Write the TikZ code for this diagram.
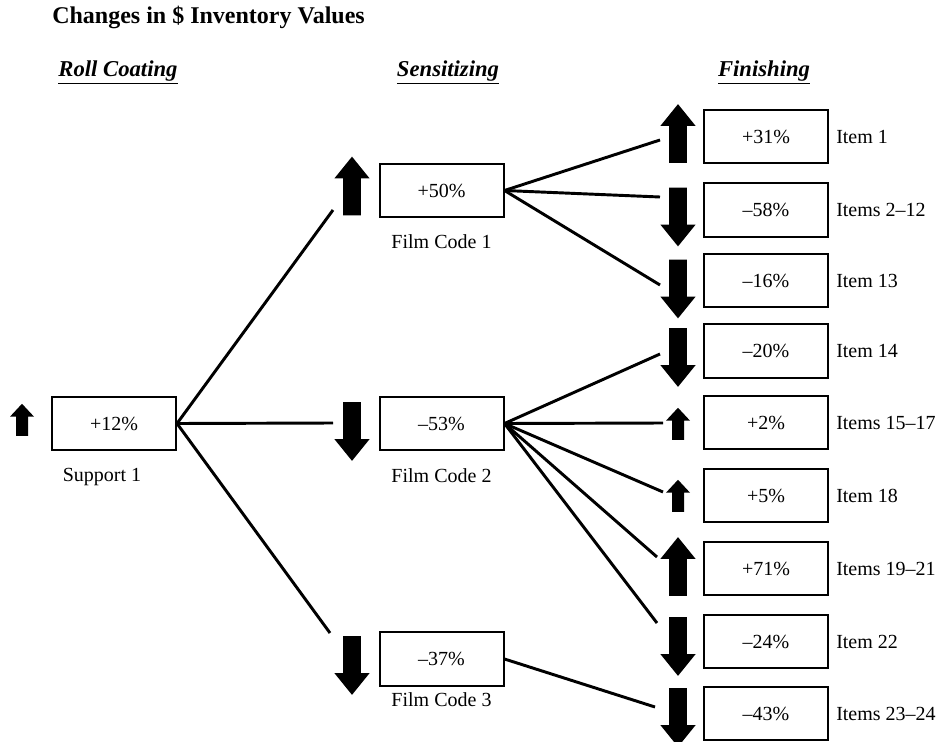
\documentclass[tikz,border=0pt]{standalone}
\usepackage{fontspec}
\setmainfont{Liberation Serif}
\usepackage{tikz}
\usetikzlibrary{positioning, shapes.arrows}

\tikzset{
  valbox/.style={draw, line width=1.5pt, minimum width=93pt, minimum height=40pt, inner sep=0pt, font=\fontsize{15}{18}\selectfont},
  caption/.style={inner sep=0pt, font=\fontsize{15}{18}\selectfont},
  sheet/.style={inner sep=0pt, font=\fontsize{18}{21}\selectfont\bfseries},
  colhead/.style={inner sep=0pt, font=\fontsize{17}{20}\selectfont\bfseries\itshape},
  link/.style={line width=2.2pt},
  arr/.style={single arrow, fill=black, draw=none, minimum width=0pt},
  bigarr/.style={minimum height=44pt, inner sep=6.5pt, single arrow head extend=6.5pt, single arrow tip angle=78},
  smallarr/.style={minimum height=24pt, inner sep=4.3pt, single arrow head extend=4.5pt, single arrow tip angle=86},
  pointup/.style={shape border rotate=90},
  pointdown/.style={shape border rotate=270}
}

\begin{document}
\begin{tikzpicture}[x=0.75pt, y=-0.75pt]
    \useasboundingbox (0,0) rectangle (946,742);
    \node[sheet, anchor=west] (ttl) at (52,17) {Changes in \$ Inventory Values};
    \node[colhead] (hroll) at (118,72) {\underline{Roll Coating}};
    \node[colhead] (hsens) at (448,72) {\underline{Sensitizing}};
    \node[colhead] (hfin) at (764,72) {\underline{Finishing}};
    % roll coating
    \node[valbox] (sup) at (114,423.5) {+12\%};
    \node[caption] (lsup) at (102,477) {Support 1};
    \node[arr, pointup, smallarr] (asup) at (22,423) {};
    % sensitizing
    \foreach \n/\y/\v/\d/\ly/\ay/\ex/\ey in {1/190.5/+50\%/pointup/242/191.5/333/210,
        2/423.5/--53\%/pointdown/476/426/333/423, 3/659/--37\%/pointdown/700/660/330/633} {
        \node[valbox] (fc\n) at (441.5,\y) {\v};
        \node[caption] (lfc\n) at (441.5,\ly) {Film Code \n};
        \node[arr, \d, bigarr] (afc\n) at (352,\ay) {};
        \coordinate (e\n) at (\ex,\ey);
        \draw[link] (sup.east) -- (e\n);
    }
    % finishing
    \foreach \n/\y/\v/\t/\d/\s/\ay/\ex/\ey in {1/136.5/+31\%/Item 1/pointup/bigarr/139/660/140,
        2/210/--58\%/Items 2--12/pointdown/bigarr/211.5/660/197,
        3/280.5/--16\%/Item 13/pointdown/bigarr/283.5/660/285,
        4/351/--20\%/Item 14/pointdown/bigarr/352/660/354,
        5/422.5/+2\%/Items 15--17/pointup/smallarr/427/663/423,
        6/495.5/+5\%/Item 18/pointup/smallarr/499/663/492,
        7/568.5/+71\%/Items 19--21/pointup/bigarr/572/657/557,
        8/641.5/--24\%/Item 22/pointdown/bigarr/641/657/623,
        9/713.5/--43\%/Items 23--24/pointdown/bigarr/712/655/707} {
        \node[valbox] (it\n) at (766,\y) {\v};
        \node[caption, anchor=west] (lit\n) at (836,\y) {\t};
        \node[arr, \d, \s] (ait\n) at (678,\ay) {};
        \coordinate (t\n) at (\ex,\ey);
    }
    \foreach \a/\b in {fc1/t1, fc1/t2, fc1/t3, fc2/t4, fc2/t5, fc2/t6, fc2/t7, fc2/t8, fc3/t9}
        \draw[link] (\a.east) -- (\b);
\end{tikzpicture}
\end{document}
